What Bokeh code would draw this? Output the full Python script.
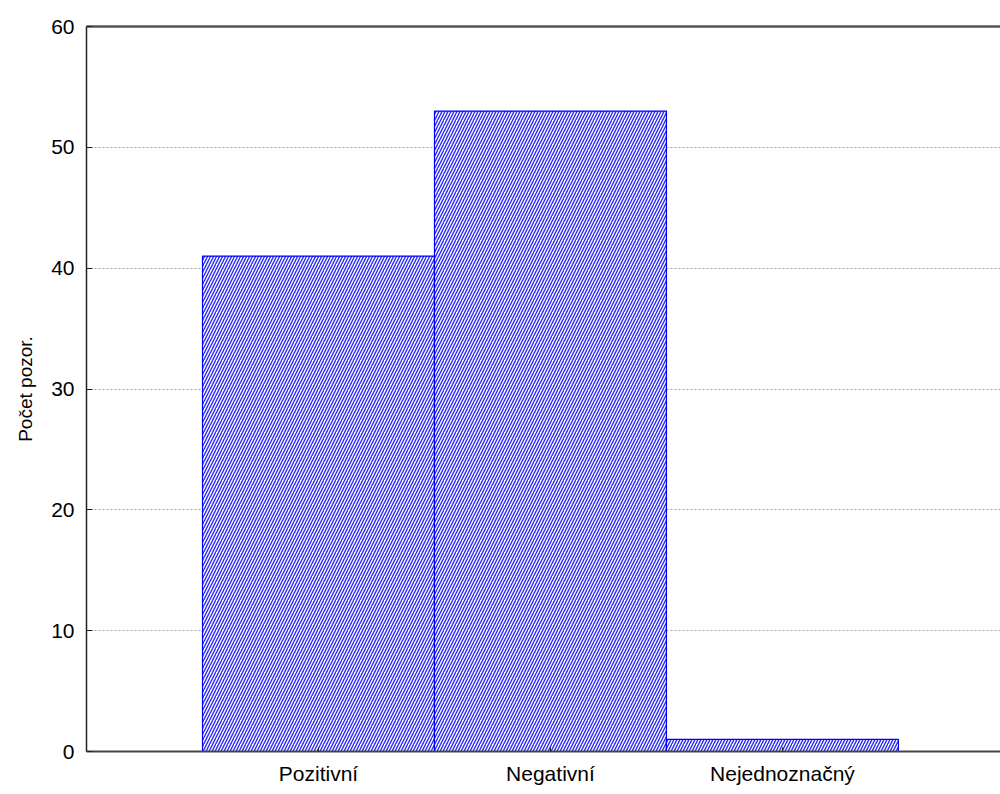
from bokeh.plotting import figure
from bokeh.models import Range1d, FixedTicker, LinearAxis
from bokeh.embed import file_html
from bokeh.resources import INLINE

categories = ["Pozitivní", "Negativní", "Nejednoznačný"]
counts = [41, 53, 1]
y_ticks = [0, 10, 20, 30, 40, 50, 60]

positions = [i + 1 for i in range(len(categories))]
FONT = "Liberation Sans"

p = figure(width=1000, height=794, output_backend="svg", toolbar_location=None,
           x_range=Range1d(0, 3.94), y_range=Range1d(0, 60),
           min_border_left=86, min_border_right=0, min_border_top=26, min_border_bottom=43)
p.outline_line_color = None
p.background_fill_color = "white"
p.border_fill_color = "white"

p.vbar(x=positions, top=counts, width=1.0, bottom=0,
       fill_color="white", line_color="#0000ff", line_width=1.2,
       hatch_pattern="/", hatch_color="#2828ff", hatch_scale=6, hatch_weight=1.4)

# y axis
ya = p.yaxis[0]
ya.ticker = FixedTicker(ticks=y_ticks)
ya.axis_label = "Počet pozor."
ya.axis_label_text_font = FONT
ya.axis_label_text_font_style = "normal"
ya.axis_label_text_font_size = "19px"
ya.axis_label_text_color = "black"
ya.axis_label_standoff = 12
ya.major_label_text_font = FONT
ya.major_label_text_font_size = "21px"
ya.major_label_text_color = "black"
ya.major_label_standoff = 12
ya.major_tick_in = 6
ya.major_tick_out = 0
ya.minor_tick_line_color = None
ya.axis_line_color = "#222222"
ya.axis_line_width = 1.5
ya.major_tick_line_color = "#222222"

# x axis
xa = p.xaxis[0]
xa.ticker = FixedTicker(ticks=positions)
xa.major_label_overrides = {pos: c for pos, c in zip(positions, categories)}
xa.major_label_text_font = FONT
xa.major_label_text_font_size = "21px"
xa.major_label_text_color = "black"
xa.major_label_standoff = 10
xa.major_tick_in = 4
xa.major_tick_out = 0
xa.minor_tick_line_color = None
xa.axis_line_color = "#444444"
xa.axis_line_width = 2
xa.major_tick_line_color = "#222222"

# top frame line
top = LinearAxis(ticker=FixedTicker(ticks=[]), major_label_text_font_size="0px",
                 axis_line_color="#555555", axis_line_width=2.5,
                 major_tick_line_color=None, minor_tick_line_color=None)
p.add_layout(top, "above")

p.xgrid.grid_line_color = None
p.ygrid.grid_line_color = "#a8a0b0"
p.ygrid.grid_line_dash = "2 2"
p.ygrid.grid_line_width = 1

open("out.html", "w").write(file_html(p, INLINE))
